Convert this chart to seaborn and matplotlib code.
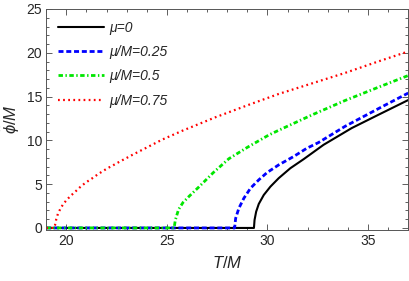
import numpy as np
import pandas as pd
import matplotlib
matplotlib.use("Agg")
import matplotlib.pyplot as plt
import seaborn as sns
from matplotlib.ticker import MultipleLocator

# values (T/M, phi/M)
T_mu0 = [19.0, 29.33, 29.36, 29.44, 29.57, 29.82, 30.15, 30.56, 31.14, 31.8, 32.79,
         34.19, 35.5, 37.0]
phi_mu0 = [0.0, 0.0, 0.91, 1.86, 2.74, 3.77, 4.72, 5.68, 6.82, 7.85, 9.49,
           11.4, 12.9, 14.6]

T_mu025 = [19.0, 28.37, 28.42, 28.58, 28.83, 29.16, 29.57, 29.98, 30.56, 31.3, 31.96,
           32.54, 33.86, 35.5, 37.0]
phi_mu025 = [0.0, 0.0, 1.1, 2.25, 3.4, 4.54, 5.49, 6.32, 7.2, 8.15, 9.1,
             9.75, 11.6, 13.6, 15.4]

T_mu05 = [19.0, 25.36, 25.42, 25.5, 25.58, 25.8, 26.1, 26.6, 27.3, 28.08, 29.0,
          30.06, 30.56, 32.21, 33.86, 35.5, 37.0]
phi_mu05 = [0.0, 0.0, 0.9, 1.5, 2.1, 2.9, 3.6, 4.7, 6.3, 7.9, 9.2,
            10.6, 11.15, 12.9, 14.55, 16.05, 17.4]

T_mu075 = [19.0, 19.38, 19.44, 19.5, 19.58, 19.7, 19.85, 20.03, 20.23, 20.45, 20.64,
           20.86, 21.09, 21.34, 21.57, 21.81, 22.05, 22.3, 22.54, 22.79, 23.03, 23.28,
           23.76, 24.78, 25.77, 27.43, 29.07, 30.56, 32.21, 33.86, 35.5, 37.0]
phi_mu075 = [0.0, 0.0, 0.34, 1.0, 1.6, 2.17, 2.74, 3.23, 3.7, 4.15, 4.57,
             4.99, 5.37, 5.75, 6.13, 6.48, 6.82, 7.12, 7.43, 7.74, 8.03, 8.34,
             8.9, 10.1, 11.1, 12.65, 14.06, 15.3, 16.5, 17.7, 19.0, 20.15]

labels = ["μ=0", "μ/M=0.25", "μ/M=0.5", "μ/M=0.75"]

sns.set_style("ticks")
plt.rcParams["font.family"] = ["Liberation Sans", "DejaVu Sans"]
plt.rcParams["mathtext.fontset"] = "custom"
plt.rcParams["mathtext.it"] = "Liberation Sans:italic"
plt.rcParams["mathtext.rm"] = "Liberation Sans"

fig = plt.figure(figsize=(4.09, 2.81), dpi=100)
ax = fig.add_axes([0.113, 0.181, 0.885, 0.787])

series = [
    (T_mu0, phi_mu0, "black", "-", 1.5),
    (T_mu025, phi_mu025, "#0000ff", (0, (1.8, 1.0)), 2.0),
    (T_mu05, phi_mu05, "#00e600", (0, (1.6, 0.9, 0.5, 0.9)), 2.0),
    (T_mu075, phi_mu075, "#ff0000", (0, (0.8, 1.5)), 1.6),
]
for (t, p, c, ls, lw), lab in zip(series, labels):
    sns.lineplot(x=t, y=p, ax=ax, color=c, linestyle=ls, linewidth=lw, label=lab, sort=False)

ax.set_xlim(19, 37)
ax.set_ylim(-0.25, 25)
ax.xaxis.set_major_locator(MultipleLocator(5))
ax.xaxis.set_minor_locator(MultipleLocator(1))
ax.yaxis.set_major_locator(MultipleLocator(5))
ax.yaxis.set_minor_locator(MultipleLocator(1))
ax.tick_params(which="both", direction="in", top=True, right=True, labelsize=10,
               width=0.6, color="#444444", pad=3)
ax.tick_params(which="major", length=4)
ax.tick_params(which="minor", length=2.3)
for s in ax.spines.values():
    s.set_linewidth(0.7)
    s.set_color("#555555")

ax.set_xlabel(r"$T/M$", fontsize=12, labelpad=5)
ax.set_ylabel(r"$\tilde{\phi}/M$", fontsize=12, labelpad=3)

leg = ax.legend(loc="upper left", frameon=False, fontsize=10, handlelength=3.3,
                labelspacing=0.74, borderaxespad=0.45, handletextpad=0.4)
for txt in leg.get_texts():
    txt.set_fontstyle("italic")

fig.savefig("out.png", dpi=100)
